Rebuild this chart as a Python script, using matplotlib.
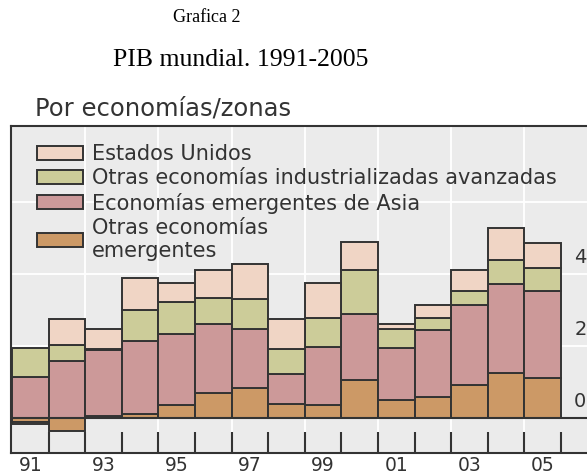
import numpy as np
import matplotlib
matplotlib.use("Agg")
import matplotlib.pyplot as plt
from matplotlib.patches import Patch

# Datos (contribución al crecimiento del PIB mundial, puntos porcentuales)
anios = list(range(1991, 2006))
etiquetas = ["91", "93", "95", "97", "99", "01", "03", "05"]
otras_emergentes = [-0.12, -0.36, 0.06, 0.11, 0.36, 0.70, 0.83, 0.39, 0.36, 1.06, 0.50, 0.58, 0.92, 1.25, 1.11]
asia_emergente = [1.14, 1.58, 1.82, 2.03, 1.97, 1.91, 1.64, 0.83, 1.61, 1.83, 1.44, 1.86, 2.22, 2.47, 2.42]
otras_industrializadas = [0.80, 0.45, 0.04, 0.86, 0.89, 0.72, 0.84, 0.70, 0.81, 1.22, 0.53, 0.34, 0.39, 0.67, 0.64]
estados_unidos = [-0.05, 0.72, 0.55, 0.88, 0.53, 0.77, 0.97, 0.83, 0.97, 0.78, 0.14, 0.36, 0.58, 0.89, 0.69]

series = [
    ("Otras economías\nemergentes", otras_emergentes, "#cc9966"),
    ("Economías emergentes de Asia", asia_emergente, "#cc9999"),
    ("Otras economías industrializadas avanzadas", otras_industrializadas, "#cccc99"),
    ("Estados Unidos", estados_unidos, "#f0d5c5"),
]

plt.rcParams['font.family'] = ['DejaVu Sans']
gris = "#333333"

fig = plt.figure(figsize=(5.87, 4.75), dpi=100)
W, H = 587, 475
ax = fig.add_axes([11 / W, (H - 453) / H, (600 - 11) / W, (453 - 126) / H])
ax.set_facecolor("#ebebeb")

x = np.arange(len(anios))
pos = np.zeros(len(anios))
neg = np.zeros(len(anios))
for nombre, vals, color in series:
    v = np.array(vals)
    base = np.where(v >= 0, pos, neg)
    ax.bar(x, v, width=1.0, bottom=base, color=color, edgecolor=gris, linewidth=1.4, zorder=3)
    pos = np.where(v >= 0, pos + v, pos)
    neg = np.where(v < 0, neg + v, neg)

ax.set_xlim(-0.53, -0.5 + (600 - 12) / 36.6)
ax.set_ylim(-0.97, 8.1)

# cuadrícula
for g in [2, 4, 6]:
    ax.axhline(g, color="white", lw=1.3, zorder=1)
for g in np.arange(1.5, 15, 2):
    ax.axvline(g, color="white", lw=1.3, zorder=1)
ax.axhline(0, color=gris, lw=1.5, zorder=4)

# etiquetas del eje derecho
for v in [0, 2, 4]:
    ax.text(14.86, v + 0.3, str(v), fontsize=14, color=gris, ha="left", va="baseline", zorder=5)

# marcas del eje x
ax.set_xticks(np.arange(0.5, 15, 1))
ax.set_xticklabels([])
ax.tick_params(axis="x", which="major", direction="in", length=15, width=1.5, color=gris)
ax.set_xticks(x[::2], minor=True)
ax.set_xticklabels(etiquetas, minor=True, fontsize=13.5, color=gris)
ax.tick_params(axis="x", which="minor", length=0, pad=2)
ax.set_yticks([])

for s in ["top", "left", "bottom"]:
    ax.spines[s].set_color(gris)
    ax.spines[s].set_linewidth(1.5)
ax.spines["right"].set_visible(False)

handles = [Patch(facecolor=c, edgecolor=gris, linewidth=1.4, label=n) for n, v, c in series][::-1]
ax.legend(handles=handles, loc="upper left", bbox_to_anchor=(0.044, 0.944), frameon=False,
          fontsize=15, handlelength=2.2, handleheight=0.65, handletextpad=0.43,
          labelspacing=0.2, borderaxespad=0, borderpad=0, labelcolor=gris)

fig.text(207 / W, 1 - 18 / H, "Grafica 2", family="Liberation Serif", fontsize=13,
         ha="center", va="center", color="black")
fig.text(241 / W, 1 - 60 / H, "PIB mundial. 1991-2005", family="Liberation Serif", fontsize=18.5,
         ha="center", va="center", color="black")
fig.text(35 / W, 1 - 115 / H, "Por economías/zonas", fontsize=17.5, ha="left", va="baseline", color=gris)

fig.savefig("out.png", dpi=100)
